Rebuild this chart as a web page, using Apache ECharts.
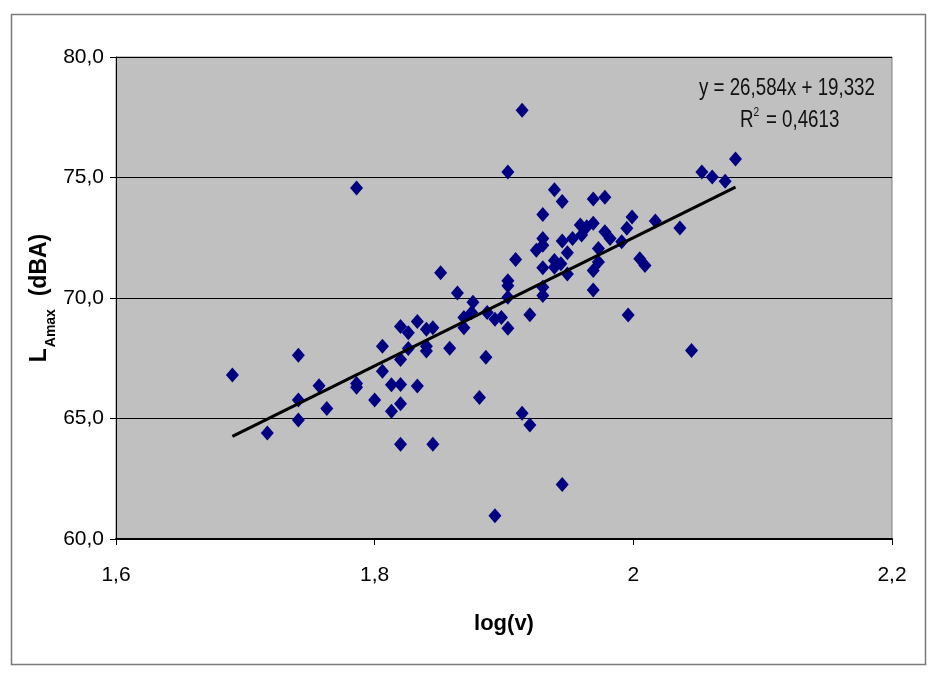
<!DOCTYPE html>
<html>
<head>
<meta charset="utf-8">
<script src="https://cdn.jsdelivr.net/npm/echarts@6/dist/echarts.min.js"></script>
<style>html,body{margin:0;padding:0;background:#fff}#c{width:936px;height:683px}</style>
</head>
<body>
<div id="c"></div>
<script>
// log(v) values
const logV = [1.690,1.717,1.741,1.741,1.741,1.757,1.763,1.786,1.786,1.786,1.800,1.806,1.806,1.813,1.813,
  1.820,1.820,1.820,1.820,1.820,1.826,1.826,1.833,1.833,1.840,1.840,1.840,1.845,1.845,1.851,1.858,1.864,
  1.869,1.869,1.875,1.876,1.881,1.886,1.887,1.893,1.893,1.898,1.903,1.903,1.903,1.903,1.903,1.909,1.914,
  1.914,1.920,1.920,1.925,1.930,1.930,1.930,1.930,1.930,1.930,1.939,1.939,1.939,1.944,1.945,1.945,1.945,
  1.949,1.949,1.953,1.959,1.960,1.964,1.969,1.969,1.969,1.969,1.973,1.973,1.978,1.978,1.982,1.991,1.995,
  1.996,1.999,2.005,2.009,2.017,2.036,2.045,2.053,2.061,2.071,2.079];
// LAmax values (dBA)
const lAmax = [66.80,64.40,67.62,65.77,64.94,66.36,65.41,66.30,66.45,74.56,65.77,68.00,66.96,66.40,65.30,
  68.82,67.45,66.41,65.61,63.93,68.56,67.90,69.03,66.35,68.70,67.80,68.00,68.77,63.93,71.05,67.91,70.21,
  69.19,68.77,69.40,69.82,65.87,67.54,69.40,69.12,60.96,69.19,75.23,70.72,70.51,70.03,68.74,71.60,77.79,
  65.22,69.30,64.73,71.98,73.46,72.47,72.19,71.26,70.45,70.10,74.49,71.56,71.28,71.42,74.00,72.36,62.26,
  71.88,71.00,72.47,73.03,72.61,72.96,74.11,73.10,71.14,70.33,72.05,71.49,74.18,72.75,72.47,72.33,72.89,
  69.29,73.36,71.63,71.35,73.19,72.90,67.82,75.23,75.02,74.84,75.77];
// trend line coefficients
const slope = 26.584, intercept = 19.332, r2 = '0,4613';
const eqText = 'y = 26,584x + 19,332';

const pts = logV.map((x, i) => [x, lAmax[i]]);
const xMin = Math.min(...logV), xMax = Math.max(...logV);
const trend = [[xMin, slope * xMin + intercept], [xMax, slope * xMax + intercept]];
const sans = "'Liberation Sans',Arial,sans-serif";
const fmtComma = (v, d) => v.toFixed(d).replace('.', ',');

const chart = echarts.init(document.getElementById('c'), null, {renderer: 'canvas'});
chart.setOption({
  animation: false,
  backgroundColor: '#ffffff',
  grid: {left: 116, right: 44, top: 57, bottom: 144, show: true, backgroundColor: '#c0c0c0', borderColor: '#808080', borderWidth: 1},
  xAxis: {
    type: 'value', min: 1.6, max: 2.2, interval: 0.2,
    name: 'log(v)', nameLocation: 'middle', nameGap: 74, nameMoveOverlap: false,
    nameTextStyle: {fontFamily: sans, fontSize: 22, fontWeight: 'bold', color: '#000'},
    axisLine: {show: true, onZero: false, lineStyle: {color: '#000', width: 2}},
    axisTick: {show: true, inside: false, length: 6, lineStyle: {color: '#000'}},
    axisLabel: {fontFamily: sans, fontSize: 21, color: '#000', margin: 26,
      formatter: v => { const r = Math.round(v * 10) / 10; return Number.isInteger(r) ? String(r) : fmtComma(r, 1); }},
    splitLine: {show: false}
  },
  yAxis: {
    type: 'value', min: 60, max: 80, interval: 5,
    name: '{b|L}{s|Amax}{b|  (dBA)}', nameLocation: 'middle', nameGap: 58, nameRotate: 90, nameMoveOverlap: false,
    nameTextStyle: {rich: {
      b: {fontFamily: sans, fontSize: 23, fontWeight: 'bold', color: '#000', verticalAlign: 'bottom', lineHeight: 30, padding: [0, 0, 7, 0]},
      s: {fontFamily: sans, fontSize: 14, fontWeight: 'bold', color: '#000', verticalAlign: 'bottom', lineHeight: 30, padding: [0, 0, 0, 1]}
    }},
    axisLine: {show: true, onZero: false, lineStyle: {color: '#000', width: 1}},
    axisTick: {show: true, inside: false, length: 6, lineStyle: {color: '#000'}},
    axisLabel: {fontFamily: sans, fontSize: 21, color: '#000', margin: 12, formatter: v => fmtComma(v, 1)},
    splitLine: {show: true, lineStyle: {color: '#000', width: 1}}
  },
  graphic: [
    {type: 'rect', left: 9, top: 12, shape: {width: 914, height: 650}, style: {fill: 'none', stroke: '#7a7a7a', lineWidth: 1.5}, silent: true},
    {type: 'text', x: 699, y: 76, scaleX: 0.78, style: {text: eqText, font: '24px ' + sans, fill: '#111', align: 'left', verticalAlign: 'top'}},
    {type: 'text', x: 740, y: 106, scaleX: 0.78,
      style: {text: '{a|R}{p|2}{a| = ' + r2 + '}', align: 'left', verticalAlign: 'top',
        rich: {a: {font: '24px ' + sans, fill: '#111', verticalAlign: 'bottom', lineHeight: 26},
               p: {font: '13px ' + sans, fill: '#111', verticalAlign: 'top', lineHeight: 26, padding: [0, 2, 0, 0]}}}}
  ],
  series: [
    {type: 'scatter', data: pts, symbol: 'diamond', symbolSize: [13, 15],
      itemStyle: {color: '#000080', opacity: 1}, z: 3},
    {type: 'line', data: trend, symbol: 'none', lineStyle: {color: '#000', width: 3}, z: 4}
  ]
});
</script>
</body>
</html>
